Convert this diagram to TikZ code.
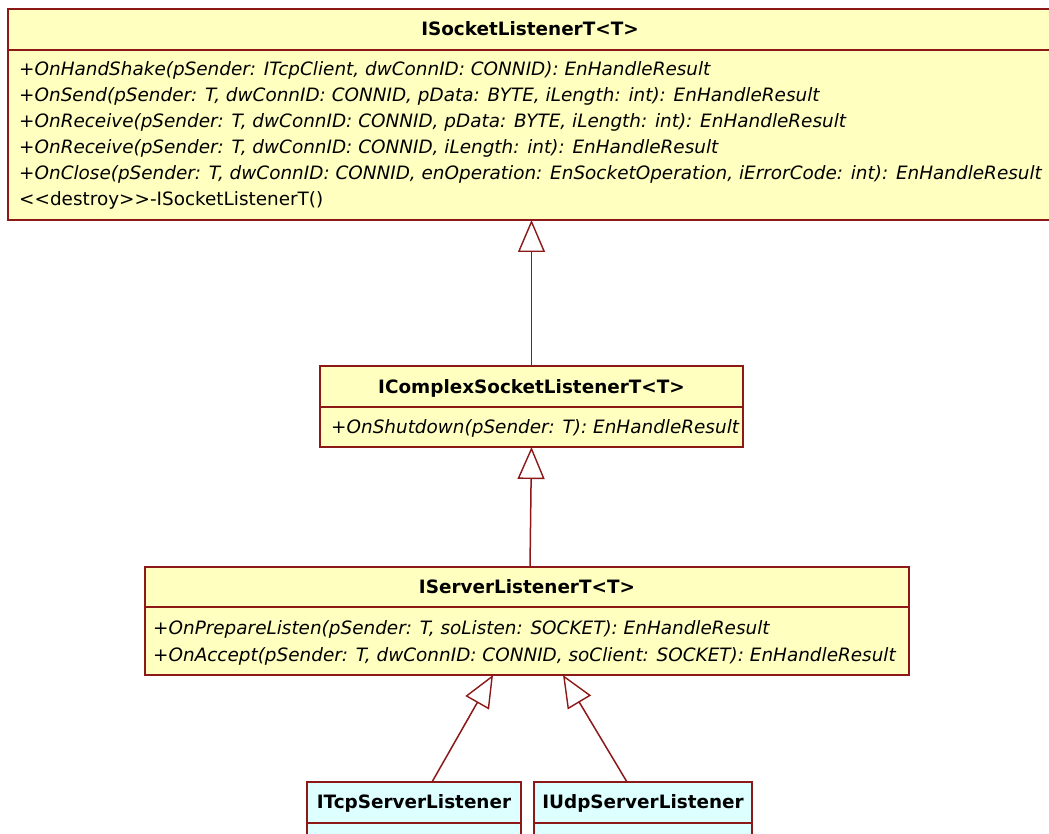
\documentclass[tikz,border=0pt]{standalone}
\usepackage{fontspec}
\setmainfont{DejaVu Sans}
\usetikzlibrary{arrows.meta}
\definecolor{umlred}{RGB}{140,24,24}
\definecolor{umlyellow}{RGB}{255,255,192}
\definecolor{umlcyan}{RGB}{221,255,255}
\begin{document}
\begin{tikzpicture}[x=1pt,y=-1pt,
  part/.style={draw=umlred, line width=1.4pt, anchor=north west, inner sep=0pt, outer sep=0pt},
  yel/.style={part, fill=umlyellow},
  cyn/.style={part, fill=umlcyan},
  title/.style={font=\fontsize{18.4}{22}\selectfont\bfseries},
  op/.style={anchor=base west, inner sep=0pt, font=\fontsize{18.4}{22}\selectfont\itshape},
  plain/.style={anchor=base west, inner sep=0pt, font=\fontsize{18.4}{22}\selectfont},
  gen/.style={draw=umlred, line width=1.5pt, -{Triangle[open, fill=white, length=32pt, width=27pt, line width=1.4pt]}}
]
\useasboundingbox (0,0) rectangle (1049,834);
\fill[white] (0,0) rectangle (1049,834);

% ISocketListenerT<T>
\node[yel, minimum width=1045, minimum height=41] (h1) at (8,9) {};
\node[yel, minimum width=1045, minimum height=170] (b1) at (8,50) {};
\node[title, anchor=base, inner sep=0pt] (t1) at (530,36) {ISocketListenerT<T>};
\node[op] (o11) at (19,76) {+OnHandShake(pSender: ITcpClient, dwConnID: CONNID): EnHandleResult};
\node[op] (o12) at (19,102) {+OnSend(pSender: T, dwConnID: CONNID, pData: BYTE, iLength: int): EnHandleResult};
\node[op] (o13) at (19,128) {+OnReceive(pSender: T, dwConnID: CONNID, pData: BYTE, iLength: int): EnHandleResult};
\node[op] (o14) at (19,154) {+OnReceive(pSender: T, dwConnID: CONNID, iLength: int): EnHandleResult};
\node[op] (o15) at (19,180) {+OnClose(pSender: T, dwConnID: CONNID, enOperation: EnSocketOperation, iErrorCode: int): EnHandleResult};
\node[plain] (o16) at (19,206) {<{}<destroy>{}>-ISocketListenerT()};

% IComplexSocketListenerT<T>
\node[yel, minimum width=423, minimum height=41] (h2) at (320,366) {};
\node[yel, minimum width=423, minimum height=40] (b2) at (320,407) {};
\node[title, anchor=base, inner sep=0pt] (t2) at (531.5,393) {IComplexSocketListenerT<T>};
\node[op] (o21) at (331,433) {+OnShutdown(pSender: T): EnHandleResult};

% IServerListenerT<T>
\node[yel, minimum width=764, minimum height=40] (h3) at (145,567) {};
\node[yel, minimum width=764, minimum height=68] (b3) at (145,607) {};
\node[title, anchor=base, inner sep=0pt] (t3) at (527,593) {IServerListenerT<T>};
\node[op] (o31) at (153,634) {+OnPrepareListen(pSender: T, soListen: SOCKET): EnHandleResult};
\node[op] (o32) at (153,661) {+OnAccept(pSender: T, dwConnID: CONNID, soClient: SOCKET): EnHandleResult};

% ITcpServerListener
\node[cyn, minimum width=214, minimum height=41] (h4) at (307,782) {};
\node[cyn, minimum width=214, minimum height=30] (b4) at (307,823) {};
\node[title, anchor=base, inner sep=0pt] (t4) at (414,808) {ITcpServerListener};

% IUdpServerListener
\node[cyn, minimum width=218, minimum height=41] (h5) at (534,782) {};
\node[cyn, minimum width=218, minimum height=30] (b5) at (534,823) {};
\node[title, anchor=base, inner sep=0pt] (t5) at (643,808) {IUdpServerListener};

% generalizations
\draw[gen] (h2.north) -- (h2.north |- b1.south);
\draw[gen] ([xshift=3pt]h3.north) -- (b2.south);
\draw[gen] ([xshift=18pt]h4.north) -- ([xshift=-34pt]b3.south);
\draw[gen] ([xshift=-16pt]h5.north) -- ([xshift=36pt]b3.south);
\end{tikzpicture}
\end{document}
